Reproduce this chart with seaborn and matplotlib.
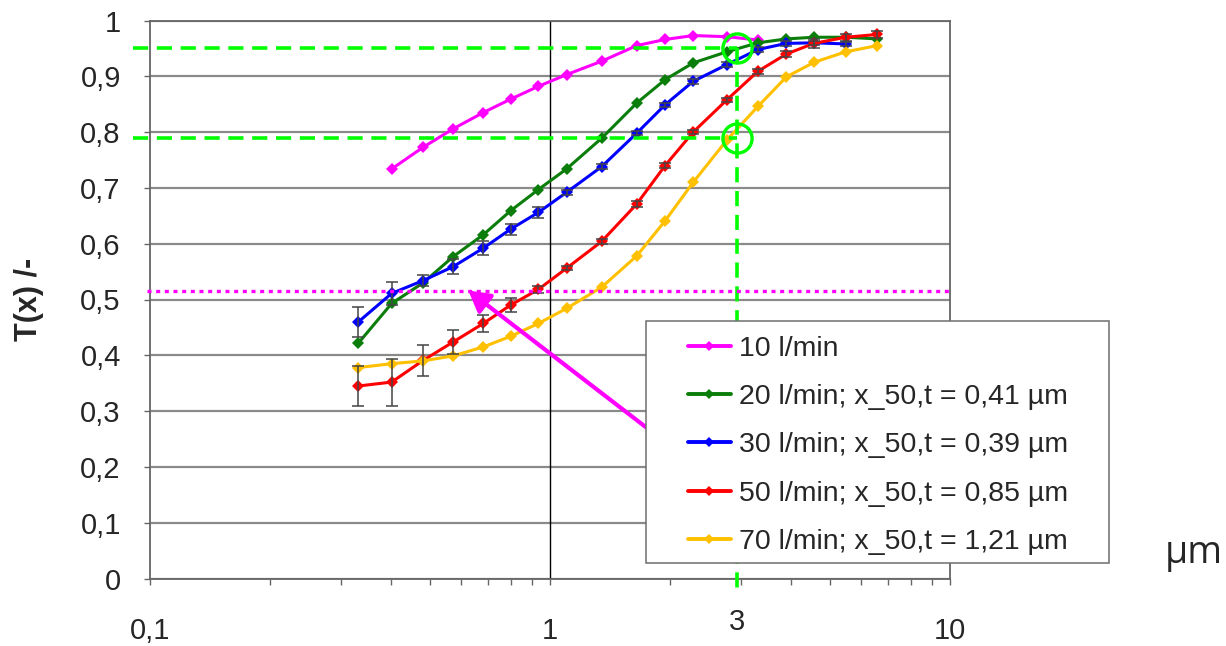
import numpy as np
import pandas as pd
import matplotlib
matplotlib.use("Agg")
import matplotlib.pyplot as plt
import matplotlib.transforms as mtransforms
import seaborn as sns
from matplotlib.lines import Line2D
from matplotlib.patches import Rectangle
from matplotlib.ticker import FixedLocator, NullFormatter

# ------------------------
# Data
# ------------------------
size_um = [0.332, 0.402, 0.482, 0.573, 0.681, 0.797, 0.935, 1.10, 1.346,
           1.647, 1.94, 2.28, 2.77, 3.31, 3.90, 4.57, 5.49, 6.58]

t_10 = [0.734, 0.773, 0.806, 0.835, 0.859, 0.882, 0.903, 0.927, 0.955,
        0.966, 0.973, 0.971, 0.965]  # starts at 2nd size class
t_20 = [0.422, 0.493, 0.530, 0.577, 0.616, 0.659, 0.697, 0.734, 0.789,
        0.852, 0.894, 0.924, 0.944, 0.960, 0.967, 0.970, 0.970, 0.967]
t_30 = [0.460, 0.511, 0.534, 0.559, 0.592, 0.626, 0.656, 0.692, 0.738,
        0.798, 0.849, 0.891, 0.921, 0.948, 0.959, 0.960, 0.958]
t_50 = [0.345, 0.352, 0.391, 0.424, 0.457, 0.490, 0.518, 0.556, 0.604,
        0.671, 0.740, 0.800, 0.858, 0.909, 0.940, 0.959, 0.970, 0.975]
t_70 = [0.378, 0.385, 0.390, 0.399, 0.415, 0.434, 0.457, 0.484, 0.522,
        0.578, 0.641, 0.710, 0.786, 0.846, 0.899, 0.925, 0.944, 0.955]

err_30 = [0.027, 0.020, 0.010, 0.014, 0.012, 0.010, 0.010, 0.005, 0.004,
          0.004, 0.004, 0.004, 0.004, 0.004, 0.004, 0.004, 0.004]
err_50 = [0.035, 0.042, 0.028, 0.021, 0.016, 0.012, 0.006, 0.004, 0.004,
          0.006, 0.004, 0.004, 0.004, 0.004, 0.005, 0.008, 0.006, 0.006]

labels = ["10 l/min",
          "20 l/min; x_50,t = 0,41 µm",
          "30 l/min; x_50,t = 0,39 µm",
          "50 l/min; x_50,t = 0,85 µm",
          "70 l/min; x_50,t = 1,21 µm"]
colors = ["#ff00ff", "#0a7d0a", "#0000ff", "#ff0000", "#ffc000"]

x_cut = 2.93                 # marked particle size (3 µm)
t_marks = [0.95, 0.79]       # transmission read at x_cut
t_half = 0.515               # dotted reference level
arrow_tip = (0.625, 0.516)
arrow_tail = (1.76, 0.268)

ytick_vals = [0, 0.1, 0.2, 0.3, 0.4, 0.5, 0.6, 0.7, 0.8, 0.9, 1]
ytick_labels = ["0", "0,1", "0,2", "0,3", "0,4", "0,5", "0,6", "0,7", "0,8", "0,9", "1"]
xtick_vals = [0.1, 1, 10]
xtick_labels = ["0,1", "1", "10"]

# long table for seaborn
series = [t_10, t_20, t_30, t_50, t_70]
starts = [1, 0, 0, 0, 0]
rows = []
for lab, vals, s in zip(labels, series, starts):
    for i, v in enumerate(vals):
        rows.append({"size": size_um[s + i], "T": v, "series": lab})
df = pd.DataFrame(rows)

# ------------------------
# Plot
# ------------------------
sns.set_style("white")
plt.rcParams["font.family"] = ["Liberation Sans", "DejaVu Sans"]

fig = plt.figure(figsize=(12.26, 6.46), dpi=100)
ax = fig.add_axes([150 / 1226, 1 - 578.5 / 646, 800 / 1226, 558 / 646])

sns.lineplot(data=df, x="size", y="T", hue="series", hue_order=labels,
             palette=dict(zip(labels, colors)), marker="D", markersize=6,
             markeredgewidth=0, linewidth=2.2, estimator=None, sort=False,
             legend=False, ax=ax, zorder=3)

ax.errorbar(size_um[:len(t_30)], t_30, yerr=err_30, fmt="none", ecolor="#444444",
            elinewidth=1.1, capsize=4, capthick=1.1, zorder=4)
ax.errorbar(size_um, t_50, yerr=err_50, fmt="none", ecolor="#444444",
            elinewidth=1.1, capsize=4, capthick=1.1, zorder=4)

ax.set_xscale("log")
ax.set_xlim(0.1, 10)
ax.set_ylim(0, 1)
ax.xaxis.set_major_locator(FixedLocator(xtick_vals))
ax.set_xticklabels(xtick_labels)
minor = [m * d for d in (0.1, 1) for m in range(2, 10)]
ax.xaxis.set_minor_locator(FixedLocator(minor))
ax.xaxis.set_minor_formatter(NullFormatter())
ax.set_yticks(ytick_vals)
ax.set_yticklabels(ytick_labels)
ax.set_xlabel("")
ax.set_ylabel("T(x) /-", fontsize=22, fontweight="bold")
ax.yaxis.set_label_coords(-0.132, 0.5)

ax.yaxis.grid(True, color="#8a8a8a", lw=1.6)
ax.xaxis.grid(False)
ax.set_axisbelow(True)
ax.axvline(1, color="black", lw=1, zorder=1)
for sp in ax.spines.values():
    sp.set_color("#666666")
    sp.set_linewidth(1.3)
ax.tick_params(axis="both", which="both", bottom=True, left=True, direction="out",
               length=4, width=1, color="#666666", labelsize=21)
ax.tick_params(axis="y", pad=17)
ax.tick_params(axis="x", pad=24)

# reference lines
for t in t_marks:
    ax.plot([0.0907, x_cut], [t, t], color="#00ff00", lw=2.6, dashes=(4.2, 2.4),
            clip_on=False, zorder=5)
ax.plot([x_cut, x_cut], [t_marks[0], -0.03], color="#00ff00", lw=2.6,
        dashes=(4.2, 2.4), clip_on=False, zorder=5)
ax.plot([x_cut, x_cut], t_marks, "o", ms=21, mfc="none", mec="#00ff00", mew=2.4,
        clip_on=False, zorder=6)
ax.plot([0.0983, 10], [t_half, t_half], color="#ff00ff", lw=2.4,
        linestyle=(0, (1.2, 1.4)), dash_capstyle="butt", clip_on=False, zorder=5)
ax.annotate("", xy=arrow_tip, xytext=arrow_tail,
            arrowprops=dict(arrowstyle="-|>,head_length=0.7,head_width=0.4",
                            color="#ff00ff", lw=3, mutation_scale=18,
                            shrinkA=0, shrinkB=0), zorder=6)

trans = mtransforms.blended_transform_factory(ax.transData, ax.transAxes)
ax.text(x_cut, -0.052, "3", transform=trans, ha="center", va="top", fontsize=21)
fig.text(1194 / 1226, 1 - 553 / 646, "µm", ha="center", va="center",
         fontsize=27, family=["Open Sans", "DejaVu Sans"])

# legend box (drawn over the plot like in the original)
fig.add_artist(Rectangle((646 / 1226, 1 - 563 / 646), 463 / 1226, 242 / 646,
                         transform=fig.transFigure, facecolor="white",
                         edgecolor="#6e6e6e", lw=1.1, zorder=2))
handles = [Line2D([], [], color=c, lw=2.8, marker="D", ms=5, mew=0) for c in colors]
fig.legend(handles, labels, loc="upper left", bbox_to_anchor=(688 / 1226, 1 - 336 / 646),
           frameon=False, fontsize=20.5, handlelength=1.5, handletextpad=0.3,
           labelspacing=0.78, borderpad=0, borderaxespad=0)

fig.savefig("out.png", dpi=100)
